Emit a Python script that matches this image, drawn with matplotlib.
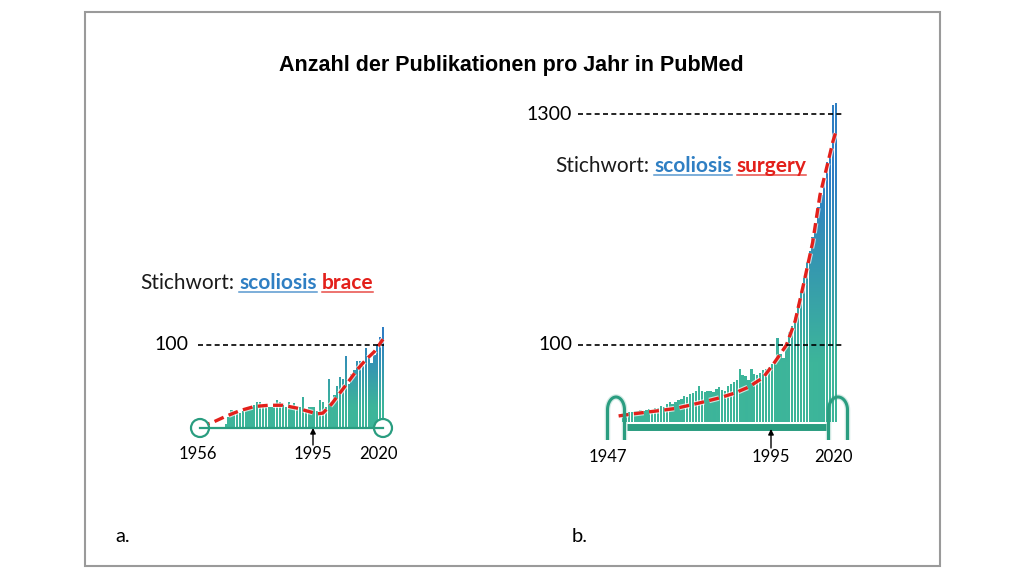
import numpy as np
import matplotlib
matplotlib.use("Agg")
import matplotlib.pyplot as plt
import matplotlib.patheffects as pe
from matplotlib.path import Path
from matplotlib.patches import PathPatch, Rectangle, Circle
from matplotlib.colors import to_rgb

# --- data ---
left_years = np.arange(1956, 2021)
left_counts = [0, 0, 0, 0, 0, 0, 0, 0, 0,
               4, 12, 21, 15, 18, 17, 20, 21, 24, 25,
               27, 31, 30, 24, 24, 24, 25, 25, 33, 30,
               27, 25, 30, 25, 29, 24, 24, 37, 21, 24,
               25, 24, 20, 33, 30, 24, 58, 30, 39, 50,
               61, 59, 86, 53, 65, 69, 81, 80, 75, 96,
               88, 78, 88, 100, 110, 122]
left_trend_years = [1956, 1960, 1965, 1970, 1975, 1980, 1985, 1990, 1994,
                    1997, 1999, 2002, 2007, 2011, 2014, 2017, 2020]
left_trend = [1, 5, 13, 20, 25, 26.5, 26.5, 23, 19, 16, 17, 28, 51, 70, 82, 92, 107]

right_years = np.arange(1947, 2021)
right_counts = [1.5, 2, 2.3, 2.2, 2.8, 2.5, 3, 2.7, 3.2, 3.5,
                3.3, 4, 4.5, 5.5, 5, 6.5, 8, 7, 8.5, 10,
                11, 13, 12, 15, 16, 18, 24, 19, 17, 18,
                19, 17.5, 21, 23, 20, 19, 24, 27, 30, 33,
                50, 40, 38, 33, 50, 42, 40, 44, 48, 50,
                54, 59, 64, 117, 80, 70, 105, 133, 150, 177,
                220, 264, 320, 387, 440, 507, 580, 668, 740, 820,
                953, 1026, 1377, 1393]
right_trend_years = [1945.5, 1950, 1955, 1960, 1965, 1970, 1975, 1980, 1985, 1990,
                     1995, 1998, 2001, 2003, 2006, 2009, 2012, 2014.5, 2017, 2019, 2020]
right_trend = [0.9, 1.5, 2.2, 3, 4, 6, 8.5, 11.6, 16, 23,
               36, 55, 80, 100, 165, 300, 480, 740, 930, 1100, 1170]

TEAL = "#3db59a"
BLUE = "#2f7fc3"
EDGE = "#2a9d80"
RED = "#e3201b"
TXT_FONT = "Lato"

W, H = 1024, 576
fig = plt.figure(figsize=(W / 100, H / 100), dpi=100)

ov = fig.add_axes([0, 0, 1, 1], zorder=10)
ov.set_xlim(0, W)
ov.set_ylim(H, 0)
ov.axis("off")
ov.patch.set_alpha(0)


def add_box(l, t, r, b):
    a = fig.add_axes([l / W, (H - b) / H, (r - l) / W, (b - t) / H], zorder=1)
    a.axis("off")
    return a


def px(ax, x, y):
    return ov.transData.inverted().transform(ax.transData.transform((x, y)))


def gradient_bars(ax, x, v, width, base_px, h0, h1, box_h):
    bars = ax.bar(x, v, width=width, color=TEAL, linewidth=0, zorder=2)
    paths = [b.get_path().transformed(b.get_patch_transform()) for b in bars]
    clip = PathPatch(Path.make_compound_path(*paths), transform=ax.transData,
                     facecolor="none", edgecolor="none")
    ax.add_patch(clip)
    h = np.arange(box_h) - base_px
    t = np.clip((h - h0) / (h1 - h0), 0, 1)[:, None, None]
    img = (1 - t) * np.array(to_rgb(TEAL)) + t * np.array(to_rgb(BLUE))
    im = ax.imshow(img, extent=(0, 1, 0, 1), transform=ax.transAxes, origin="lower",
                   aspect="auto", interpolation="bilinear", zorder=3)
    im.set_clip_path(clip)


def trend(ax, xs, ys):
    ax.plot(xs, ys, color=RED, lw=2.4, linestyle=(0, (3, 1.6)), zorder=5,
            solid_capstyle="butt",
            path_effects=[pe.Stroke(linewidth=4, foreground="white", alpha=0.7), pe.Normal()])


def hline(ax, x0, x1, y):
    ax.plot([x0, x1], [y, y], color="black", lw=1.2, linestyle=(0, (3, 2)),
            zorder=6, clip_on=False)


# --- left panel: scoliosis brace ---
axL = add_box(150, 300, 420, 470)
gradient_bars(axL, left_years, left_counts, 0.78, 470 - 427, 20, 90, 170)
trend(axL, left_trend_years, left_trend)
sx = (383 - 200) / (2020 - 1956)
axL.set_xlim(1956 - (200 - 150) / sx, 2020 + (420 - 383) / sx)
sy = (427 - 345) / 100
axL.set_ylim(-(470 - 427) / sy, (427 - 300) / sy)
hline(axL, 1955.3, 2020.4, 100)
axL.text(1955.3 - 10 / sx, 100, "100", ha="right", va="center", fontsize=14, family=TXT_FONT)

# --- right panel: scoliosis surgery ---
P = 0.54


def fwd(v):
    return np.sign(v) * np.abs(v) ** P


def inv(t):
    return np.sign(t) * np.abs(t) ** (1 / P)


axR = add_box(520, 90, 860, 470)
axR.set_yscale("function", functions=(fwd, inv))
gradient_bars(axR, right_years, right_counts, 0.8, 470 - 422, 60, 240, 380)
trend(axR, right_trend_years, right_trend)
sxr = (836 - 623) / (2020 - 1947)
axR.set_xlim(1947 - (623 - 520) / sxr, 2020 + (860 - 836) / sxr)
syr = (422 - 345) / fwd(100)
axR.set_ylim(inv(-(470 - 422) / syr), inv((422 - 90) / syr))
x_start = 1947 - (623 - 578) / sxr
x_end = 2020 + (843 - 836) / sxr
for lvl in (100, 1300):
    hline(axR, x_start, x_end, lvl)
    axR.text(x_start - 6 / sxr, lvl, str(lvl), ha="right", va="center",
             fontsize=14, family=TXT_FONT)

# --- overlay: frame, title, labels ---
ov.add_patch(Rectangle((85, 12), 855, 554, fill=False, edgecolor="#9a9a9a", lw=1.5))
ov.text(511, 66, "Anzahl der Publikationen pro Jahr in PubMed", ha="center", va="center",
        fontsize=15.5, fontweight="bold", family="Liberation Sans")
ov.text(115, 537, "a.", fontsize=14.5, family=TXT_FONT, va="center")
ov.text(572, 537, "b.", fontsize=14.5, family=TXT_FONT, va="center")

renderer = fig.canvas.get_renderer()


def keyword_line(x, y, parts, size=15):
    for s, col, under in parts:
        t = ov.text(x, y, s, color=col, fontsize=size, family=TXT_FONT, va="baseline",
                    fontweight="bold" if under else "normal")
        bb = t.get_window_extent(renderer).transformed(ov.transData.inverted())
        if under:
            ov.plot([bb.x0, bb.x1], [y + 3, y + 3], color=col, lw=1.1, alpha=0.8)
        x = bb.x1 + 5


keyword_line(140, 289, [("Stichwort:", "#1a1a1a", False), ("scoliosis", BLUE, True),
                        ("brace", RED, True)])
keyword_line(555, 172, [("Stichwort:", "#1a1a1a", False), ("scoliosis", BLUE, True),
                        ("surgery", RED, True)])

# left panel base line and end circles
c0 = px(axL, 1956, 0)
c1 = px(axL, 2020, 0)
ov.plot([c0[0], c1[0]], [c0[1] + 1, c1[1] + 1], color=EDGE, lw=1.6)
for c in (c0, c1):
    ov.add_patch(Circle((c[0], c[1] + 1), 9, facecolor="white", edgecolor=EDGE, lw=1.6))


# right panel arches and base bar
def arch(cx, top, rx, ry, bottom):
    th = np.linspace(0, np.pi, 40)
    cy = top + ry
    xs = np.r_[cx + rx, cx + rx * np.cos(th), cx - rx]
    ys = np.r_[bottom, cy - ry * np.sin(th), bottom]
    ov.plot(xs, ys, color=EDGE, lw=4, alpha=0.2, solid_capstyle="butt")
    ov.plot(xs, ys, color=EDGE, lw=2.2, solid_capstyle="butt")


la = px(axR, 1947, 0)[0] - 7
ra = px(axR, 2020, 0)[0] + 2
arch(la, 397, 8.5, 13, 440)
arch(ra, 397, 9.5, 13, 440)
ov.plot([la + 11, ra - 12], [427, 427], color=EDGE, lw=5, solid_capstyle="butt")

# year labels and 1995 arrows
for x, s in [(198, "1956"), (313, "1995"), (378, "2020")]:
    ov.text(x, 454, s, ha="center", va="center", fontsize=12, family=TXT_FONT)
for x, s in [(608, "1947"), (771, "1995"), (833, "2020")]:
    ov.text(x, 457, s, ha="center", va="center", fontsize=12, family=TXT_FONT)
for x, y0, y1 in [(313, 445, 428), (771, 448, 429)]:
    ov.annotate("", xy=(x, y1), xytext=(x, y0),
                arrowprops=dict(arrowstyle="-|>", color="black", lw=1, mutation_scale=8,
                                shrinkA=0, shrinkB=0))

fig.savefig("out.png", dpi=100)
